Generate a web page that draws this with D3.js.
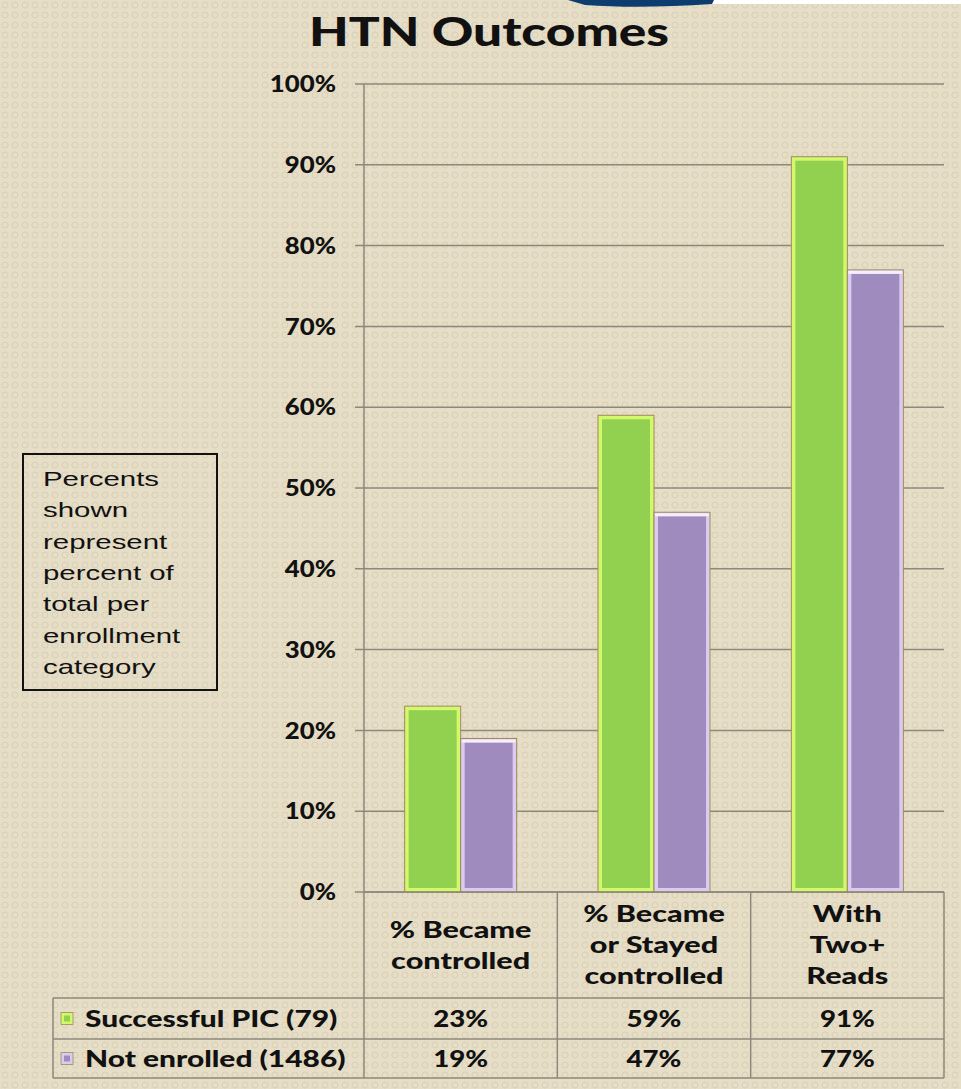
<!DOCTYPE html>
<html><head><meta charset="utf-8">
<script src="https://cdn.jsdelivr.net/npm/d3@7"></script>
<style>html,body{margin:0;padding:0;background:#e6ddc6;}svg{display:block;}</style>
</head><body>
<script>
const categories = ["% Became controlled", "% Became or Stayed controlled", "With Two+ Reads"];
const categoryLines = [["% Became", "controlled"], ["% Became", "or Stayed", "controlled"], ["With", "Two+", "Reads"]];
const seriesNames = ["Successful PIC (79)", "Not enrolled (1486)"];
const successfulPIC = [23, 59, 91];
const notEnrolled = [19, 47, 77];
const tableLabels = [["23%", "59%", "91%"], ["19%", "47%", "77%"]];
const yTicks = [0, 10, 20, 30, 40, 50, 60, 70, 80, 90, 100];
const yTickLabels = ["0%", "10%", "20%", "30%", "40%", "50%", "60%", "70%", "80%", "90%", "100%"];
const noteLines = ["Percents", "shown", "represent", "percent of", "total per", "enrollment", "category"];

const W = 961, H = 1089;
const svg = d3.select("body").append("svg").attr("width", W).attr("height", H);
const defs = svg.append("defs");
const pat = defs.append("pattern").attr("id", "tex").attr("width", 10).attr("height", 10).attr("patternUnits", "userSpaceOnUse");
pat.append("rect").attr("width", 10).attr("height", 10).attr("fill", "#e7dec8");
pat.append("circle").attr("cx", 5).attr("cy", 5).attr("r", 3).attr("fill", "none").attr("stroke", "#d8ceb4").attr("stroke-width", 1);
svg.append("rect").attr("width", W).attr("height", H).attr("fill", "url(#tex)");

// horizontal stretch helper (reference text is horizontally widened)
function stretch(sel, f) {
  sel.each(function () {
    const w = this.getComputedTextLength();
    d3.select(this).attr("textLength", w * f).attr("lengthAdjust", "spacingAndGlyphs");
  });
}

// top decoration
svg.append("rect").attr("x", 712).attr("y", 0).attr("width", 249).attr("height", 4).attr("fill", "#ffffff");
svg.append("path").attr("d", "M568,0 L714,0 L712,4 Q640,9 585,5 Z").attr("fill", "#0d3d6e");

const font = "Lato, 'DejaVu Sans', sans-serif";
const colors = [{fill: "#92d050", edge: "#d2f86c"}, {fill: "#a08bbf", edge: "#dccbf0"}];

const x0 = 364, x1 = 944, yBottom = 892, yTop = 84;
const x = d3.scaleBand().domain(categories).range([x0, x1]).padding(0);
const xs = d3.scaleBand().domain(seriesNames).range([0, x.bandwidth()]).paddingInner(0).paddingOuter(0.726);
const y = d3.scaleLinear().domain([0, 100]).range([yBottom, yTop]);

// title
svg.append("text").attr("x", 489).attr("y", 46).attr("text-anchor", "middle")
  .attr("font-family", font).attr("font-weight", 900).attr("font-size", 40)
  .attr("textLength", 360).attr("lengthAdjust", "spacingAndGlyphs").attr("fill", "#111").text("HTN Outcomes");

// gridlines
const gridColor = "#8c887a";
svg.append("g").selectAll("line").data(yTicks).join("line")
  .attr("x1", x0 - 9).attr("x2", x1).attr("y1", d => y(d)).attr("y2", d => y(d))
  .attr("stroke", gridColor).attr("stroke-width", 1.5);
svg.append("line").attr("x1", x0).attr("x2", x0).attr("y1", yTop).attr("y2", 1078).attr("stroke", gridColor).attr("stroke-width", 1.5);

// tick labels
const tl = svg.append("g").selectAll("text").data(yTicks).join("text")
  .attr("x", 336).attr("y", d => y(d)).attr("dy", "0.36em").attr("text-anchor", "end")
  .attr("font-family", font).attr("font-weight", 900).attr("font-size", 23).attr("fill", "#111")
  .text((d, i) => yTickLabels[i]);
stretch(tl, 1.12);

// bars
const series = [successfulPIC, notEnrolled];
series.forEach((vals, si) => {
  const g = svg.append("g");
  const c = colors[si];
  const bars = g.selectAll("g").data(categories).join("g");
  bars.append("rect")
    .attr("x", d => x(d) + xs(seriesNames[si])).attr("width", xs.bandwidth())
    .attr("y", (d, i) => y(vals[i])).attr("height", (d, i) => y(0) - y(vals[i]))
    .attr("fill", c.edge).attr("stroke", "#a08a5a").attr("stroke-width", 1);
  bars.append("rect")
    .attr("x", d => x(d) + xs(seriesNames[si]) + 4).attr("width", xs.bandwidth() - 8)
    .attr("y", (d, i) => y(vals[i]) + 4).attr("height", (d, i) => y(0) - y(vals[i]) - 8)
    .attr("fill", c.fill);
  if (si === 1) {
    bars.append("rect")
      .attr("x", d => x(d) + xs(seriesNames[si]) + 1).attr("width", xs.bandwidth() - 2)
      .attr("y", (d, i) => y(vals[i]) + 1).attr("height", 3).attr("fill", "#f6eefc");
  }
});

// note box
svg.append("rect").attr("x", 23).attr("y", 454).attr("width", 194).attr("height", 236)
  .attr("fill", "none").attr("stroke", "#111").attr("stroke-width", 2);
const nt = svg.append("g").selectAll("text").data(noteLines).join("text")
  .attr("x", 43).attr("y", (d, i) => 486 + i * 31.3)
  .attr("font-family", "'Liberation Sans', Arial, sans-serif").attr("font-size", 21).attr("fill", "#111")
  .text(d => d);
stretch(nt, 1.4);

// table
const tableColor = "#8c887a";
const rowY = [998, 1039, 1078];
const tg = svg.append("g");
tg.append("line").attr("x1", x0).attr("x2", x1).attr("y1", yBottom).attr("y2", yBottom).attr("stroke", tableColor).attr("stroke-width", 1.5);
rowY.forEach(yy => tg.append("line").attr("x1", 53).attr("x2", x1).attr("y1", yy).attr("y2", yy).attr("stroke", tableColor).attr("stroke-width", 1.5));
const vx = categories.map(c => x(c) + x.bandwidth());
vx.forEach(xx => tg.append("line").attr("x1", xx).attr("x2", xx).attr("y1", yBottom).attr("y2", 1078).attr("stroke", tableColor).attr("stroke-width", 1.5));
tg.append("line").attr("x1", 53).attr("x2", 53).attr("y1", 998).attr("y2", 1078).attr("stroke", tableColor).attr("stroke-width", 1.5);

// header
categoryLines.forEach((lines, ci) => {
  const cx = x(categories[ci]) + x.bandwidth() / 2;
  const n = lines.length;
  const startY = 945 - (n - 1) * 15.5;
  lines.forEach((ln, li) => {
    const t = tg.append("text").attr("x", cx).attr("y", startY + li * 31).attr("dy", "0.36em")
      .attr("text-anchor", "middle").attr("font-family", font).attr("font-weight", 900)
      .attr("font-size", 23).attr("fill", "#111").text(ln);
    stretch(t, 1.33);
  });
});
// data rows
tableLabels.forEach((row, ri) => {
  const cy = (rowY[ri] + rowY[ri + 1]) / 2;
  row.forEach((tx, ci) => {
    const t = tg.append("text").attr("x", x(categories[ci]) + x.bandwidth() / 2).attr("y", cy).attr("dy", "0.36em")
      .attr("text-anchor", "middle").attr("font-family", font).attr("font-weight", 900)
      .attr("font-size", 23).attr("fill", "#111").text(tx);
    stretch(t, 1.2);
  });
  const c = colors[ri];
  tg.append("rect").attr("x", 61).attr("y", cy - 6).attr("width", 12).attr("height", 12)
    .attr("fill", c.edge).attr("stroke", "#a08a5a").attr("stroke-width", 0.8);
  tg.append("rect").attr("x", 64).attr("y", cy - 3).attr("width", 6).attr("height", 6).attr("fill", c.fill);
  const lt = tg.append("text").attr("x", 85).attr("y", cy).attr("dy", "0.36em")
    .attr("font-family", font).attr("font-weight", 900).attr("font-size", 23).attr("fill", "#111")
    .text(seriesNames[ri]);
  stretch(lt, 1.3);
});
</script>
</body></html>
